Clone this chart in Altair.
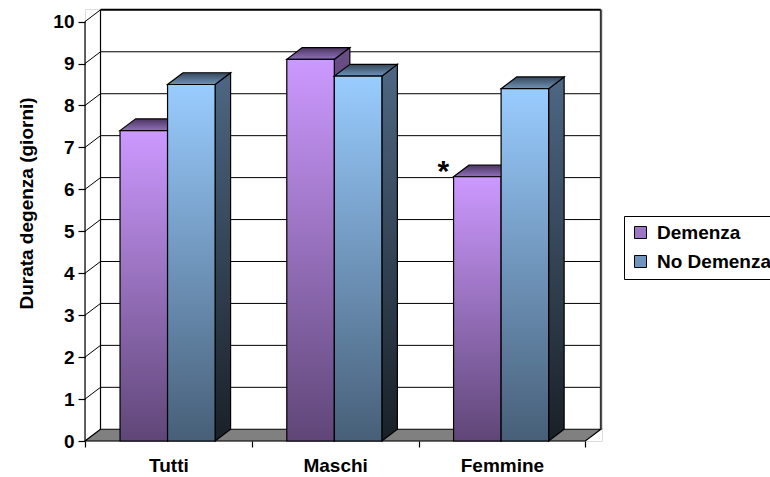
import altair as alt
import pandas as pd

# Average length of stay (days), with / without dementia
categories = ["Tutti", "Maschi", "Femmine"]
series = ["Demenza", "No Demenza"]
demenza = [7.4, 9.1, 6.3]
no_demenza = [8.5, 8.7, 8.4]
significance = ["", "", "*"]          # marker drawn next to the "Demenza" bar
y_ticks = list(range(0, 11))
legend_colors = ["#9E76C6", "#6F95BE"]

# Box geometry of the pseudo-3D columns, in data units
DX = 0.093      # depth shift along x (category units)
DY = 0.28       # depth shift along y (days)
BAR_W = 0.285
GROUP_OFF = 0.21
N = len(categories)
Y_TOP = 10

FONT = "Liberation Sans"


def grad(top, bottom):
    return alt.Gradient(
        gradient="linear",
        stops=[alt.GradientStop(color=top, offset=0), alt.GradientStop(color=bottom, offset=1)],
        x1=0, x2=0, y1=0, y2=1,
    )


FRONT = {"Demenza": grad("#CC99FF", "#5F4677"), "No Demenza": grad("#99CCFF", "#475F78")}
SIDE = {"Demenza": grad("#6B4F88", "#1C1524"), "No Demenza": grad("#4E6783", "#192027")}
TOP = {"Demenza": grad("#4A3560", "#9270BA"), "No Demenza": grad("#34475C", "#7194B8")}

# ---- data tables -------------------------------------------------------
bar_rows, side_rows, top_rows = [], [], []
for i, cat in enumerate(categories):
    for j, (name, vals) in enumerate(zip(series, [demenza, no_demenza])):
        x0 = i + GROUP_OFF + j * BAR_W
        x1 = x0 + BAR_W
        v = vals[i]
        key = f"{cat}|{name}"
        bar_rows.append(dict(cat=cat, serie=name, bar=key, value=v, base=0.0,
                             x0=x0, x1=x1, note=significance[i] if j == 0 else "",
                             note_x=x0 - 0.062))
        side_rows += [dict(bar=key, serie=name, x=x1, lo=0.0, hi=v),
                      dict(bar=key, serie=name, x=x1 + DX, lo=DY, hi=v + DY)]
        top_rows += [dict(bar=key, serie=name, y=v, l=x0, r=x1),
                     dict(bar=key, serie=name, y=v + DY, l=x0 + DX, r=x1 + DX)]

bars = pd.DataFrame(bar_rows)
sides = pd.DataFrame(side_rows)
tops = pd.DataFrame(top_rows)

floor = pd.DataFrame([dict(y=0.0, l=0.0, r=float(N)), dict(y=DY, l=DX, r=N + DX)])

grid_rows = []
for v in y_ticks[1:]:
    grid_rows.append(dict(x=0.0, y=v, x2=DX, y2=v + DY, w=1.0, c="#000000"))          # side wall
for v in y_ticks[1:-1]:
    grid_rows.append(dict(x=DX, y=v + DY, x2=N + DX, y2=v + DY, w=1.0, c="#000000"))  # back wall
grid_rows += [
    dict(x=DX, y=Y_TOP + DY, x2=N + DX, y2=Y_TOP + DY, w=2.0, c="#000000"),
    dict(x=DX, y=DY, x2=DX, y2=Y_TOP + DY, w=1.2, c="#000000"),
    dict(x=N + DX, y=DY, x2=N + DX, y2=Y_TOP + DY, w=2.0, c="#333333"),
    dict(x=0.0, y=0.0, x2=0.0, y2=float(Y_TOP), w=1.2, c="#000000"),
]
grid = pd.DataFrame(grid_rows)

# ---- scales & axes -----------------------------------------------------
xs = alt.Scale(domain=[0, 3.1], nice=False, zero=False)
ys = alt.Scale(domain=[0, 10.3], nice=False, zero=False)

label_js = "[" + ",".join(f"'{c}'" for c in categories) + "]"
x_axis = alt.Axis(
    values=[k / 2 for k in range(0, 2 * N + 1)],
    labelExpr=f"datum.value % 1 === 0 ? '' : {label_js}[floor(datum.value)]",
    tickOpacity={"condition": {"test": "datum.value % 1 === 0", "value": 1}, "value": 0},
    title=None, grid=False, domain=False, tickSize=6, tickColor="black", tickWidth=1.2,
    labelFontSize=19, labelFontWeight="bold", labelColor="black", labelPadding=9,
    labelOverlap=False, labelFont=FONT,
)
y_axis = alt.Axis(
    values=y_ticks, title="Durata degenza (giorni)", grid=False, domain=False,
    tickSize=7, tickColor="black", tickWidth=1.2, labelPadding=4,
    labelFontSize=19, labelFontWeight="bold", labelColor="black", labelFont=FONT,
    titleFontSize=19, titleFontWeight="bold", titleColor="black", titleFont=FONT,
    titlePadding=16, titleY=194,
)


def X(field):
    return alt.X(field, type="quantitative", scale=xs, axis=x_axis, stack=None)


def Y(field):
    return alt.Y(field, type="quantitative", scale=ys, axis=y_axis, stack=None)


# ---- layers ------------------------------------------------------------
floor_layer = alt.Chart(floor).mark_area(
    orient="horizontal", fill="#808080", stroke="black", strokeWidth=1.2
).encode(y=Y("y"), x=X("l"), x2="r:Q")

grid_layer = alt.Chart(grid).mark_rule().encode(
    x=X("x"), y=Y("y"), x2="x2:Q", y2="y2:Q",
    strokeWidth=alt.StrokeWidth("w:Q", scale=None, legend=None),
    stroke=alt.Stroke("c:N", scale=None, legend=None),
)

# solid front faces carry the legend; gradient faces are painted over them
legend_layer = alt.Chart(bars).mark_bar(strokeWidth=0).encode(
    x=X("x0"), x2="x1:Q", y=Y("base"), y2="value:Q",
    color=alt.Color(
        "serie:N",
        scale=alt.Scale(domain=series, range=legend_colors),
        legend=alt.Legend(
            title=None, orient="none", legendX=539, legendY=207,
            strokeColor="black", fillColor="white", padding=7,
            symbolType="square", symbolSize=144, symbolStrokeColor="black",
            symbolStrokeWidth=1, symbolOpacity=1, rowPadding=9, labelOffset=7,
            labelFontSize=19, labelFontWeight="bold", labelColor="black",
            labelFont=FONT, labelLimit=300,
        ),
    ),
)


def box_layers(name):
    side = alt.Chart(sides).transform_filter(alt.datum.serie == name).mark_area(
        orient="vertical", fill=SIDE[name], stroke="black", strokeWidth=1.2
    ).encode(x=X("x"), y=Y("lo"), y2="hi:Q", detail="bar:N")
    top = alt.Chart(tops).transform_filter(alt.datum.serie == name).mark_area(
        orient="horizontal", fill=TOP[name], stroke="black", strokeWidth=1.2
    ).encode(y=Y("y"), x=X("l"), x2="r:Q", detail="bar:N")
    front = alt.Chart(bars).transform_filter(alt.datum.serie == name).mark_bar(
        fill=FRONT[name], stroke="black", strokeWidth=1.2
    ).encode(x=X("x0"), x2="x1:Q", y=Y("base"), y2="value:Q")
    return [side, top, front]


note_layer = alt.Chart(bars).transform_filter(alt.datum.note != "").mark_text(
    fontSize=30, fontWeight="bold", font=FONT, color="black",
    baseline="alphabetic", align="center", dy=4,
).encode(x=X("note_x"), y=Y("value"), text="note:N")

chart = alt.layer(
    floor_layer,
    grid_layer,
    legend_layer,
    *box_layers("Demenza"),
    *box_layers("No Demenza"),
    note_layer,
).properties(
    width=517,
    height=432,
    padding={"left": 85, "top": 9, "right": 168, "bottom": 36},
    autosize=alt.AutoSizeParams(type="none"),
    background="white",
).configure_view(stroke=None).configure(font=FONT)

chart.save("out.html", embed_options={"renderer": "svg", "actions": False})
